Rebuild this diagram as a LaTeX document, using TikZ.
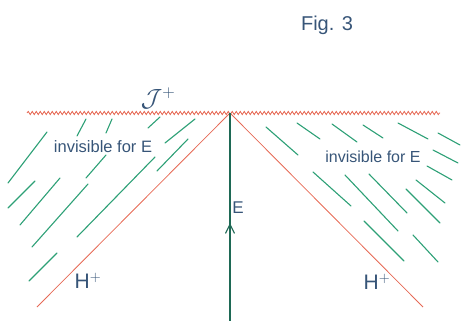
\documentclass[tikz,border=0pt]{standalone}
\usepackage{fontspec}
\setmainfont{Liberation Sans}
\usetikzlibrary{decorations.pathmorphing,decorations.markings,arrows.meta}
\definecolor{horred}{RGB}{230,105,85}
\definecolor{flowgreen}{RGB}{45,160,118}
\definecolor{worldgreen}{RGB}{30,105,85}
\definecolor{inkblue}{RGB}{55,85,120}
\tikzset{
  horizon/.style={draw=horred, line width=0.8pt},
  scri/.style={draw=horred, line width=0.8pt, decorate, decoration={snake, segment length=4pt, amplitude=1.6pt}},
  flow/.style={draw=flowgreen, line width=1.1pt, line cap=round},
  worldline/.style={draw=worldgreen, line width=1.2pt, postaction={decorate},
    decoration={markings, mark=at position 0.47 with {\arrow{Straight Barb[length=9pt,width=9pt,line width=1.1pt]}}}},
  lbl/.style={text=inkblue, inner sep=0pt},
}
\begin{document}
\begin{tikzpicture}[x=1pt,y=-1pt]
\useasboundingbox (0,0) rectangle (461,321);
% key points
\coordinate (apex) at (230,113);
\coordinate (scriL) at (27,113);
\coordinate (scriR) at (440,113);
\coordinate (hL) at (37,307);
\coordinate (hR) at (423,307);
\coordinate (bot) at (230,321);
% scri plus
\draw[scri] (scriL) -- (scriR);
% horizons
\draw[horizon] (apex) -- (hL);
\draw[horizon] (apex) -- (hR);
% worldline of E
\draw[worldline] (bot) -- (apex);
% left flow strokes
\draw[flow] (86,119) -- (77,136);
\draw[flow] (112,119) -- (106,133);
\draw[flow] (160,117) -- (148,128);
\draw[flow] (195,119) -- (165,143);
\draw[flow] (47,132) -- (8,183);
\draw[flow] (106,155) -- (86,178);
\draw[flow] (188,139) -- (157,171);
\draw[flow] (155,157) -- (77,237);
\draw[flow] (35,181) -- (8,208);
\draw[flow] (60,178) -- (20,225);
\draw[flow] (88,184) -- (32,247);
\draw[flow] (57,253) -- (29,281);
% right flow strokes
\draw[flow] (266,127) -- (298,155);
\draw[flow] (297,123) -- (320,139);
\draw[flow] (332,124) -- (357,142);
\draw[flow] (363,125) -- (383,138);
\draw[flow] (398,123) -- (428,139);
\draw[flow] (438,133) -- (460,145);
\draw[flow] (433,150) -- (458,163);
\draw[flow] (427,166) -- (452,180);
\draw[flow] (313,172) -- (351,206);
\draw[flow] (345,175) -- (398,231);
\draw[flow] (369,174) -- (407,213);
\draw[flow] (416,180) -- (445,203);
\draw[flow] (406,189) -- (440,223);
\draw[flow] (364,221) -- (404,261);
\draw[flow] (413,235) -- (438,262);
% labels
\node[lbl, font=\fontsize{20}{24}\selectfont] (fig) at (327,25) {Fig. 3};
\node[lbl, font=\fontsize{24}{28}\selectfont] (scrilabel) at (158,98) {$\mathcal{J}^{+}$};
\node[lbl, font=\fontsize{16.5}{20}\selectfont] (invL) at (103,147) {invisible for E};
\node[lbl, font=\fontsize{16}{20}\selectfont] (invR) at (373,157) {invisible for E};
\node[lbl, font=\fontsize{17}{20}\selectfont] (elabel) at (238,208) {E};
\node[lbl, font=\fontsize{21}{26}\selectfont] (hlabelL) at (88,281) {H$^{+}$};
\node[lbl, font=\fontsize{21}{26}\selectfont] (hlabelR) at (377,282) {H$^{+}$};
\end{tikzpicture}
\end{document}
